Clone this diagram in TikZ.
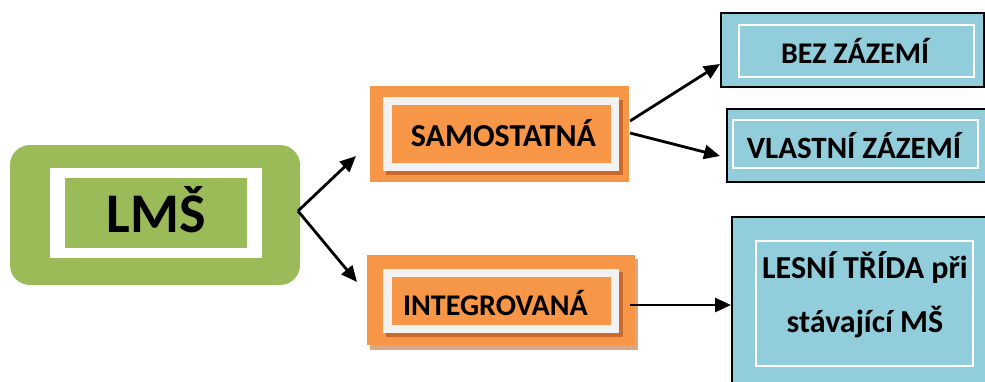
\documentclass[tikz,border=0pt]{standalone}
\usepackage{fontspec}
\setmainfont{Carlito}
\usetikzlibrary{arrows.meta}
\definecolor{lgreen}{HTML}{9BBB59}
\definecolor{lorange}{HTML}{F79646}
\definecolor{dorange}{HTML}{C96A2C}
\definecolor{tanshadow}{HTML}{D9A784}
\definecolor{lblue}{HTML}{92CDDC}
\definecolor{offwhite}{HTML}{F2F2F2}
\begin{document}
\begin{tikzpicture}[x=1pt,y=-1pt,
  conn/.style={line width=2.8pt, -{Triangle[length=16pt,width=14pt]}},
  lbl/.style={font=\bfseries\fontsize{30}{36}\selectfont, inner sep=0pt, text=black},
  lblb/.style={font=\bfseries\fontsize{32}{38}\selectfont, inner sep=0pt, text=black},
  lblc/.style={font=\bfseries\fontsize{31}{37}\selectfont, inner sep=0pt, text=black},
  bigl/.style={font=\bfseries\fontsize{56}{64}\selectfont, inner sep=0pt, text=black},
  bluebox/.style={fill=lblue, draw=black, line width=2pt},
  whiteframe/.style={draw=white, line width=1.5pt},
]
\clip (0,0) rectangle (985,381);
\fill[white] (0,0) rectangle (985,381);

% LMS
\node[fill=lgreen, rounded corners=20pt, minimum width=290pt, minimum height=140pt, inner sep=0pt] (lms) at (155,215) {};
\fill[white] (50,168) rectangle (262,258);
\fill[lgreen] (65,178) rectangle (247,248);
\node[bigl, anchor=base] (lmst) at (156,232) {LMŠ};

% SAMOSTATNA
\node[fill=lorange, minimum width=259pt, minimum height=96pt, inner sep=0pt] (sam) at (499.5,134) {};
\fill[dorange] (386,100) rectangle (623,175);
\fill[offwhite] (383,97) rectangle (619,171);
\fill[lorange] (392,105) rectangle (611,163);
\node[lblb, anchor=base] (samt) at (503.5,146) {SAMOSTATNÁ};

% INTEGROVANA
\fill[tanshadow] (370,259) rectangle (638,350);
\node[fill=lorange, minimum width=268pt, minimum height=90pt, inner sep=0pt] (int) at (501,300) {};
\fill[dorange] (386,272) rectangle (623,337);
\fill[offwhite] (383,269) rectangle (619,333);
\fill[lorange] (392,277) rectangle (611,325);
\node[lbl, anchor=base west] (intt) at (403,315) {INTEGROVANÁ};

% BEZ ZAZEMI
\node[bluebox, minimum width=263pt, minimum height=74pt, inner sep=0pt] (bez) at (852.5,50) {};
\draw[whiteframe] (739,25) rectangle (974,77);
\node[lbl, anchor=base] (bezt) at (855,63) {BEZ ZÁZEMÍ};

% VLASTNI ZAZEMI
\node[bluebox, minimum width=263pt, minimum height=73pt, inner sep=0pt] (vla) at (858.5,145.5) {};
\draw[whiteframe] (733,120) rectangle (978,168);
\node[lblc, anchor=base] (vlat) at (854,158) {VLASTNÍ ZÁZEMÍ};

% LESNI TRIDA
\node[bluebox, minimum width=260pt, minimum height=175pt, inner sep=0pt] (les) at (862,304.5) {};
\draw[whiteframe] (756,241) rectangle (973,366);
\node[lblb, anchor=base] (lest1) at (865,278) {LESNÍ TŘÍDA při};
\node[lblb, anchor=base] (lest2) at (865,332) {stávající MŠ};

% connectors
\coordinate (c1) at (356,156);
\coordinate (c2) at (357,282);
\coordinate (s1) at (630,121);
\coordinate (s2) at (630,133);
\coordinate (c3) at (720,64);
\coordinate (c4) at (720,156);
\coordinate (i1) at (630,305);
\coordinate (c5) at (731,305);
\coordinate (l1) at (298,211);
\draw[conn] (l1) -- (c1);
\draw[conn] (l1) -- (c2);
\draw[conn] (s1) -- (c3);
\draw[conn] (s2) -- (c4);
\draw[conn] (i1) -- (c5);
\end{tikzpicture}
\end{document}
